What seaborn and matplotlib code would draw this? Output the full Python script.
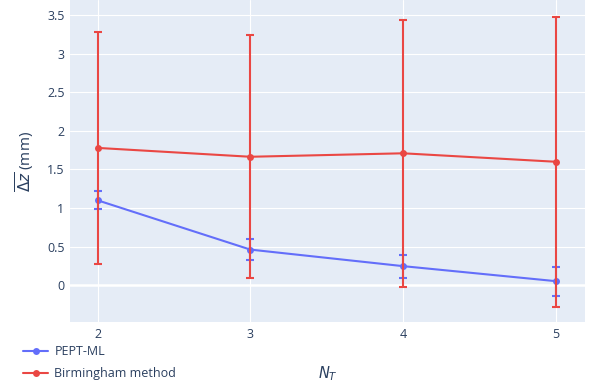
import numpy as np
import pandas as pd
import matplotlib
matplotlib.use("Agg")
import matplotlib.pyplot as plt
import seaborn as sns

# Number of tracers
n_tracers = [2, 3, 4, 5]

# Mean z-error and its spread for each method
pept_ml_mean = [1.10, 0.46, 0.245, 0.05]
pept_ml_err = [0.115, 0.14, 0.15, 0.19]
birmingham_mean = [1.78, 1.665, 1.71, 1.60]
birmingham_err = [1.51, 1.58, 1.73, 1.88]

methods = ["PEPT-ML", "Birmingham method"]
colors = {"PEPT-ML": "#636EFA", "Birmingham method": "#EA4743"}

df = pd.DataFrame({
    "N_T": n_tracers * 2,
    "dz": pept_ml_mean + birmingham_mean,
    "err": pept_ml_err + birmingham_err,
    "method": [methods[0]] * 4 + [methods[1]] * 4,
})

sns.set_theme(style="darkgrid", rc={
    "axes.facecolor": "#E5ECF6",
    "grid.color": "white",
    "grid.linewidth": 0.8,
})
plt.rcParams["font.family"] = ["Open Sans", "DejaVu Sans"]
plt.rcParams["mathtext.fontset"] = "dejavusans"
text_color = "#2A3F5F"

fig = plt.figure(figsize=(5.97, 3.85), dpi=100)
ax = fig.add_axes([70 / 597, 1 - 322 / 385, 515 / 597, 322 / 385])

sns.lineplot(data=df, x="N_T", y="dz", hue="method", hue_order=methods,
             palette=colors, marker="o", markersize=5, markeredgewidth=0,
             linewidth=1.5, ax=ax, legend=True, zorder=3)

for i, m in enumerate(methods):
    sub = df[df["method"] == m]
    ax.errorbar(sub["N_T"], sub["dz"], yerr=sub["err"], fmt="none",
                ecolor=colors[m], elinewidth=1.5, capsize=3.2,
                capthick=1.5, zorder=3 + i)

ax.set_xlim(1.82, 5.19)
ax.set_ylim(-0.48, 3.70)
ax.set_xticks(n_tracers)
ax.set_xticklabels([str(v) for v in n_tracers])
yt = np.arange(0, 3.51, 0.5)
ax.set_yticks(yt)
ax.set_yticklabels([f"{v:g}" for v in yt])
ax.axhline(0, color="white", linewidth=1.8, zorder=1)
ax.tick_params(colors=text_color, labelsize=9, length=0, pad=4)
for s in ax.spines.values():
    s.set_visible(False)

ax.set_xlabel("")
ax.set_ylabel("")
fig.text(328 / 597, 1 - 374 / 385, r"$N_T$", ha="center", va="center",
         fontsize=10.5, color=text_color)
fig.text(25 / 597, 1 - 161 / 385, r"$\overline{\Delta z}$ (mm)", ha="center",
         va="center", rotation=90, fontsize=11, color=text_color)

handles, labels = ax.get_legend_handles_labels()
ax.legend(handles, labels, loc="upper left",
          bbox_to_anchor=(23 / 597, 1 - 345 / 385),
          bbox_transform=fig.transFigure, frameon=False,
          fontsize=9, labelcolor=text_color, handlelength=2.0,
          handletextpad=0.5, labelspacing=0.75, borderpad=0, borderaxespad=0)

fig.savefig("out.png", dpi=100)
